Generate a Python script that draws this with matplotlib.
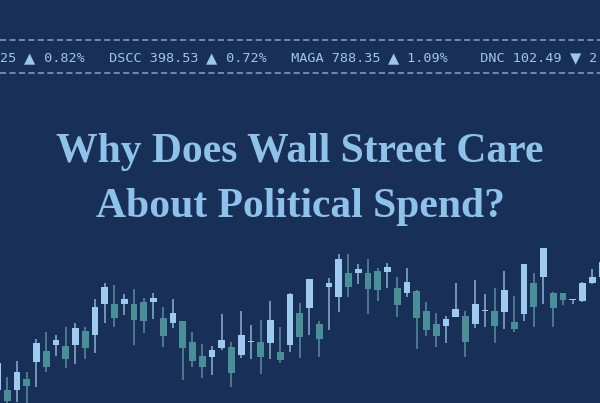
import numpy as np
import matplotlib
matplotlib.use("Agg")
import matplotlib.pyplot as plt

# candle values (arbitrary price units), one per session
opens = [13, 13, 13, 24, 41, 52, 58, 57, 58, 72,
         68, 99, 99, 99, 99, 101, 101, 85, 80, 82,
         61, 47, 46, 55, 56, 48, 61, 61, 60, 51,
         58, 90, 95, 79, 116, 106, 130, 130, 130, 132,
         131, 115, 110, 112, 92, 79, 77, 86, 87, 79,
         92, 92, 91, 81, 89, 120, 126, 110, 110, 103,
         102, 120, 126]
highs = [45, 26, 42, 31, 64, 71, 68, 76, 80, 76,
         104, 120, 118, 109, 114, 105, 110, 96, 104, 82,
         71, 59, 57, 89, 61, 92, 78, 83, 102, 76,
         110, 100, 124, 82, 125, 149, 149, 139, 144, 135,
         140, 126, 135, 113, 101, 90, 87, 120, 92, 123,
         109, 115, 132, 107, 139, 130, 155, 111, 110, 104,
         121, 134, 142]
lows = [8, -7, 1, -2, 16, 31, 47, 35, 39, 44,
        50, 80, 76, 88, 58, 70, 84, 56, 75, 23,
        36, 25, 28, 53, 16, 45, 44, 29, 44, 40,
        51, 45, 68, 46, 73, 91, 106, 119, 89, 102,
        115, 86, 106, 54, 67, 56, 60, 86, 46, 75,
        76, 60, 74, 71, 82, 76, 99, 76, 98, 99,
        101, 119, 121]
closes = [40, 2, 31, 17, 60, 36, 63, 44, 75, 55,
          96, 116, 85, 104, 83, 82, 105, 67, 90, 55,
          42, 36, 53, 63, 30, 68, 62, 46, 83, 43,
          109, 66, 124, 64, 120, 144, 116, 134, 114, 113,
          136, 98, 121, 85, 73, 67, 84, 94, 61, 99,
          93, 77, 113, 74, 139, 96, 155, 95, 103, 104,
          120, 126, 141]

# ticker strip, split so the arrows can be drawn a bit larger
ticker_parts = ["25 ", "\u25b2", " 0.82%   DSCC 398.53 ", "\u25b2",
                " 0.72%   MAGA 788.35 ", "\u25b2", " 1.09%    DNC 102.49 ",
                "\u25bc", " 2"]
title_lines = ["Why Does Wall Street Care", "About Political Spend?"]

BG = "#182f57"
UP = "#9dcaee"
DOWN = "#4a8e98"
UP_WICK = "#8db2d0"
DOWN_WICK = "#5b8ea0"
TEXT = "#8fc2eb"
TICK_TXT = "#9ec6e9"

fig = plt.figure(figsize=(6, 4.03), dpi=100, facecolor=BG)
ax = fig.add_axes([0, 0, 1, 1])
ax.set_facecolor(BG)

o = np.array(opens)
c = np.array(closes)
idx = np.arange(len(o))
up = c >= o
body_low = np.minimum(o, c)
body_h = np.maximum(np.abs(c - o), 1.3)

ax.vlines(idx, lows, highs, colors=np.where(up, UP_WICK, DOWN_WICK), linewidth=1.1, zorder=1)
ax.bar(idx, body_h, bottom=body_low, width=0.68, color=np.where(up, UP, DOWN), zorder=2)

ax.set_xlim(0.26, 61.8)
ax.set_ylim(0, 403)
ax.axis("off")

for yy in [40, 73]:
    fig.add_artist(plt.Line2D([0, 1], [1 - yy / 403] * 2, color="#7fa6c8",
                              linewidth=1.1, dashes=(4, 2.2)))

mono = ["DejaVu Sans Mono", "DejaVu Sans"]
prev = fig.text(0.0, 1 - 59 / 403, ticker_parts[0], ha="left", va="center",
                fontsize=9.7, family=mono, color=TICK_TXT)
for part in ticker_parts[1:]:
    size = 13.5 if part in ("\u25b2", "\u25bc") else 9.7
    prev = ax.annotate(part, xy=(1, 0.5), xycoords=prev, ha="left", va="center",
                       fontsize=size, family=mono, color=TICK_TXT,
                       annotation_clip=False)

# headline
for line, base in zip(title_lines, [162, 217]):
    fig.text(0.5, 1 - base / 403, line, ha="center", va="baseline", fontsize=30,
             family="Liberation Serif", weight="bold", color=TEXT)

fig.savefig("out.png", dpi=100, facecolor=BG)
